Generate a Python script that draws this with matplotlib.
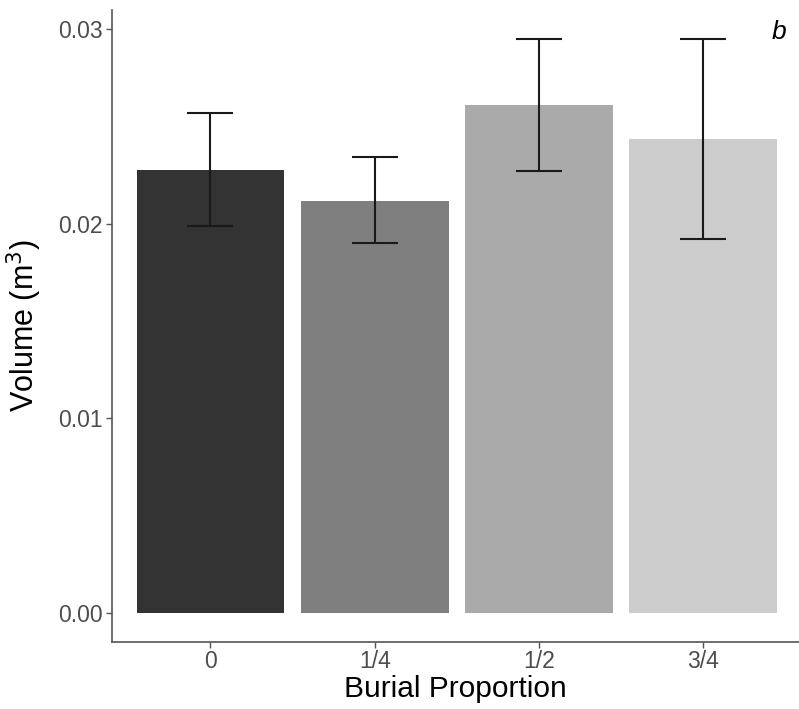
import numpy as np
import matplotlib.pyplot as plt

plt.rcParams['font.family'] = ['Liberation Sans', 'DejaVu Sans']

# data
burial = ['0', '1/4', '1/2', '3/4']
volume = [0.02275, 0.02116, 0.02614, 0.02435]
err_low = [0.01988, 0.01900, 0.02270, 0.01921]
err_high = [0.02573, 0.02342, 0.02953, 0.02953]
bar_colors = ['#333333', '#7f7f7f', '#aaaaaa', '#cccccc']

fig = plt.figure(figsize=(7.99, 7.09), dpi=100)
ax = fig.add_axes([112/799, 67/709, 687/799, 632/709])

x = np.arange(len(burial))
ax.bar(x, volume, width=0.9, color=bar_colors)

vol = np.array(volume)
yerr = [vol - np.array(err_low), np.array(err_high) - vol]
ax.errorbar(x, vol, yerr=yerr, fmt='none', ecolor='#1a1a1a',
            elinewidth=1.5, capsize=16.5, capthick=1.5)

ax.set_xlim(-0.6, 3.585)
ax.set_ylim(-0.00149, 0.031)
ax.set_xticks(x)
ax.set_xticklabels(burial)
ax.set_yticks([0.0, 0.01, 0.02, 0.03])
ax.set_yticklabels(['0.00', '0.01', '0.02', '0.03'])

for side in ['top', 'right']:
    ax.spines[side].set_visible(False)
for side in ['left', 'bottom']:
    ax.spines[side].set_color('#555555')
    ax.spines[side].set_linewidth(1.2)

ax.tick_params(axis='both', colors='#555555', labelsize=16.5, length=4, width=1, pad=3)
ax.tick_params(axis='x', pad=2)
for lab in ax.get_xticklabels() + ax.get_yticklabels():
    lab.set_color('#4d4d4d')

ax.set_xlabel('Burial Proportion', fontsize=21.5, labelpad=1)
ax.set_ylabel('Volume (m$^3$)', fontsize=22, labelpad=10)

ax.text(0.971, 0.965, 'b', transform=ax.transAxes, fontsize=19,
        style='italic', ha='center', va='center')

fig.savefig('out.png', dpi=100)
